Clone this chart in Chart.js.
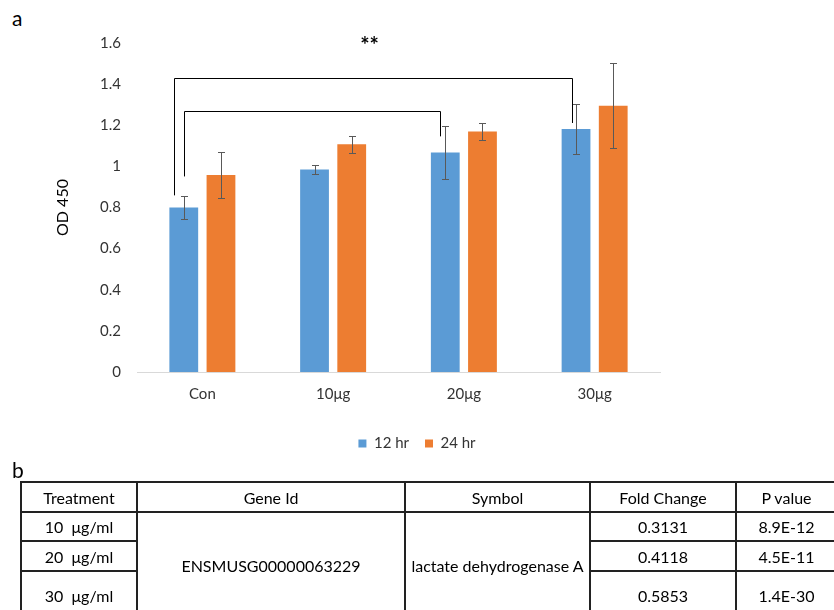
<!DOCTYPE html>
<html>
<head>
<meta charset="utf-8">
<script src="https://cdn.jsdelivr.net/npm/chart.js@4.4.1/dist/chart.umd.min.js"></script>
<style>
  html, body { margin: 0; padding: 0; width: 834px; height: 610px; overflow: hidden; background: #fff; font-family: Lato, sans-serif; }
  #wrap { position: absolute; left: 0; top: 0; width: 834px; height: 461px; }
  .panel { position: absolute; font-size: 21px; color: #000; line-height: 1; }
  #tbl { position: absolute; left: 20px; top: 481px; width: 816px; border-collapse: collapse; table-layout: fixed; font-size: 16px; color: #000; }
  #tbl td { border: 2px solid #222; text-align: center; vertical-align: middle; padding: 0; white-space: nowrap; }
</style>
</head>
<body>
<div class="panel" style="left:12px; top:7px;">a</div>
<div id="wrap"><canvas id="odChart" width="834" height="461"></canvas></div>
<div class="panel" style="left:12px; top:459px;">b</div>
<table id="tbl"></table>

<script>
// chart data
var categories = ['Con', '10μg', '20μg', '30μg'];
var seriesNames = ['12 hr', '24 hr'];
var od12 = [0.80, 0.985, 1.068, 1.182];
var od24 = [0.958, 1.107, 1.169, 1.295];
var err12 = [0.058, 0.02, 0.13, 0.122];
var err24 = [0.113, 0.04, 0.04, 0.206];

// significance brackets (category index of each end, heights in OD)
var bracketFrom = [0, 0];
var bracketTo = [3, 2];
var bracketTop = [1.432, 1.268];
var bracketLeftEnd = [0.859, 0.951];
var bracketRightEnd = [1.211, 1.146];
var signifLabel = '**';

// table data
var tableHeader = ['Treatment', 'Gene Id', 'Symbol', 'Fold Change', 'P value'];
var treatments = ['10\u00a0 μg/ml', '20\u00a0 μg/ml', '30\u00a0 μg/ml'];
var geneId = 'ENSMUSG00000063229';
var symbol = 'lactate dehydrogenase A';
var foldChange = ['0.3131', '0.4118', '0.5853'];
var pValues = ['8.9E-12', '4.5E-11', '1.4E-30'];

var errorBars = {
    id: 'errorBars',
    afterDatasetsDraw: function(chart) {
        var ctx = chart.ctx;
        var y = chart.scales.y;
        [err12, err24].forEach(function(errs, di) {
            var meta = chart.getDatasetMeta(di);
            meta.data.forEach(function(bar, i) {
                var v = chart.data.datasets[di].data[i];
                var top = Math.round(y.getPixelForValue(v + errs[i])) + 0.5;
                var bot = Math.round(y.getPixelForValue(v - errs[i])) + 0.5;
                var x = Math.round(bar.x) + 0.5;
                ctx.save();
                ctx.strokeStyle = '#595959';
                ctx.lineWidth = 1;
                ctx.beginPath();
                ctx.moveTo(x, top); ctx.lineTo(x, bot);
                ctx.moveTo(x - 3.5, top); ctx.lineTo(x + 3.5, top);
                ctx.moveTo(x - 3.5, bot); ctx.lineTo(x + 3.5, bot);
                ctx.stroke();
                ctx.restore();
            });
        });
    }
};

var brackets = {
    id: 'brackets',
    afterDatasetsDraw: function(chart, args, opts) {
        var ctx = chart.ctx;
        var y = chart.scales.y;
        var bars = chart.getDatasetMeta(0).data;
        var mid = null;
        ctx.save();
        ctx.strokeStyle = '#000';
        ctx.lineWidth = 1;
        bracketFrom.forEach(function(f, k) {
            var x1 = Math.round(bars[f].x + opts.dxFrom[k]) + 0.5;
            var x2 = Math.round(bars[bracketTo[k]].x + opts.dxTo[k]) + 0.5;
            var yt = Math.round(y.getPixelForValue(bracketTop[k])) + 0.5;
            ctx.beginPath();
            ctx.moveTo(x1, y.getPixelForValue(bracketLeftEnd[k]));
            ctx.lineTo(x1, yt);
            ctx.lineTo(x2, yt);
            ctx.lineTo(x2, y.getPixelForValue(bracketRightEnd[k]));
            ctx.stroke();
            if (mid === null) mid = (x1 + x2) / 2;
        });
        ctx.fillStyle = '#000';
        ctx.font = 'bold 22px Lato';
        ctx.textAlign = 'center';
        ctx.textBaseline = 'middle';
        ctx.fillText(signifLabel, mid - 4, y.getPixelForValue(1.6) + 3);
        ctx.restore();
    }
};

// center the legend on the whole page width, as in the original figure
var legendCenter = {
    id: 'legendCenter',
    afterLayout: function(chart) {
        var lg = chart.legend;
        lg.left = 0;
        lg.right = chart.width;
        lg.width = chart.width;
    }
};

var ctx = document.getElementById('odChart').getContext('2d');
var chart = new Chart(ctx, {
    type: 'bar',
    data: {
        labels: categories,
        datasets: [{
            label: seriesNames[0],
            data: od12,
            backgroundColor: '#5B9BD5',
            borderWidth: 0
        }, {
            label: seriesNames[1],
            data: od24,
            backgroundColor: '#ED7D31',
            borderWidth: 0
        }]
    },
    options: {
        responsive: false,
        animation: false,
        layout: { padding: { top: 43, right: 174, bottom: 0, left: 0 } },
        categoryPercentage: 0.569,
        barPercentage: 0.774,
        plugins: {
            legend: {
                position: 'bottom',
                labels: {
                    boxWidth: 8,
                    boxHeight: 8,
                    padding: 16,
                    color: '#333',
                    font: { family: 'Lato', size: 15 }
                }
            },
            tooltip: { enabled: false },
            brackets: { dxFrom: [-10, 0], dxTo: [-4, -5] }
        },
        scales: {
            x: {
                grid: { display: false, drawTicks: false },
                border: { display: true, color: '#d9d9d9', width: 1 },
                ticks: { color: '#333', padding: 13, font: { family: 'Lato', size: 15 } },
                afterFit: function(scale) { scale.height = 48; }
            },
            y: {
                min: 0,
                max: 1.6,
                ticks: {
                    stepSize: 0.2,
                    color: '#333',
                    padding: 16,
                    font: { family: 'Lato', size: 15 },
                    callback: function(v) { return String(Number(v.toFixed(1))); }
                },
                grid: { display: false, drawTicks: false },
                border: { display: false },
                title: {
                    display: true,
                    text: 'OD 450',
                    color: '#000',
                    font: { family: 'Lato', size: 16 },
                    padding: { top: 53, bottom: 0 }
                },
                afterFit: function(scale) { scale.width = 137; }
            }
        }
    },
    plugins: [errorBars, brackets, legendCenter]
});

// table below the chart
var colWidths = [116, 268, 185, 146, 101];
var rowHeights = [30, 29, 30, 48];
var tbl = document.getElementById('tbl');
var cg = document.createElement('colgroup');
colWidths.forEach(function(w) {
    var c = document.createElement('col');
    c.style.width = w + 'px';
    cg.appendChild(c);
});
tbl.appendChild(cg);
function cell(tr, text, rows) {
    var td = document.createElement('td');
    td.textContent = text;
    if (rows) td.rowSpan = rows;
    tr.appendChild(td);
}
var hr = document.createElement('tr');
hr.style.height = rowHeights[0] + 'px';
tableHeader.forEach(function(h) { cell(hr, h); });
tbl.appendChild(hr);
treatments.forEach(function(t, i) {
    var tr = document.createElement('tr');
    tr.style.height = rowHeights[i + 1] + 'px';
    cell(tr, t);
    if (i === 0) {
        cell(tr, geneId, treatments.length);
        cell(tr, symbol, treatments.length);
    }
    cell(tr, foldChange[i]);
    cell(tr, pValues[i]);
    tbl.appendChild(tr);
});
</script>
</body>
</html>
